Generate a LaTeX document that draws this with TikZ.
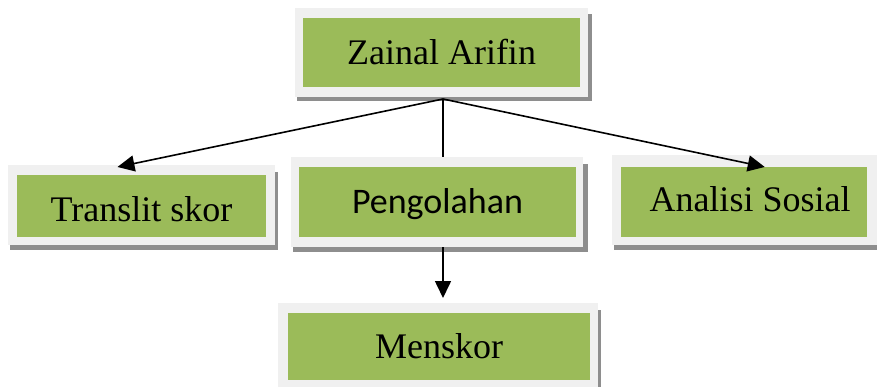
\documentclass[tikz,border=0pt]{standalone}
\usepackage{fontspec}
\setmainfont{Liberation Serif}
\newfontfamily\calfont{Carlito}
\usetikzlibrary{arrows.meta,calc}
\definecolor{boxgreen}{HTML}{9BBB59}
\definecolor{framegray}{HTML}{F0F0F0}
\definecolor{shadowgray}{HTML}{8E8E8E}
\begin{document}
\begin{tikzpicture}[x=1pt,y=-1pt,
  frame/.style={fill=framegray, draw=none, inner sep=0pt, outer sep=0pt},
  greenbox/.style={fill=boxgreen, draw=none, inner sep=0pt, outer sep=0pt,
    text height=24pt, text depth=0pt, font=\fontsize{36}{40}\selectfont},
  lbl/.style={font=\fontsize{36}{40}\selectfont, text height=24pt, text depth=0pt, inner sep=0pt},
  shade/.style={fill=shadowgray},
  conn/.style={line width=1.6pt, black},
  arr/.style={conn, -{Triangle[length=17pt,width=16pt]}}]
\clip (0,0) rectangle (877,387);
\fill[white] (0,0) rectangle (877,387);
% Zainal Arifin
\fill[shade] (297,14) rectangle (592,101);
\node[frame, minimum width=293pt, minimum height=89pt] (za) at (441.5,52.5) {};
\node[greenbox, minimum width=277pt, minimum height=69pt] (zat) at (441.5,52.5) {Zainal Arifin};
% Translit skor
\fill[shade] (10,172) rectangle (278,250);
\node[frame, minimum width=267pt, minimum height=80pt] (tr) at (141.5,205) {};
\node[greenbox, minimum width=249pt, minimum height=62pt] (trt) at (141.5,206) {};
\node[lbl] (trl) at (141.5,210) {Translit skor};
% Pengolahan
\fill[shade] (293,164) rectangle (588,252);
\node[frame, minimum width=292pt, minimum height=90pt] (pe) at (437,202) {};
\node[greenbox, minimum width=277pt, minimum height=70pt, font=\calfont\fontsize{36}{40}\selectfont, text height=23pt] (pet) at (437.5,202) {Pengolahan};
% Analisi Sosial
\fill[shade] (614,162) rectangle (884,250);
\node[frame, minimum width=268pt, minimum height=90pt] (an) at (746,200) {};
\node[greenbox, minimum width=246pt, minimum height=70pt] (ant) at (744,202) {};
\node[lbl] (anl) at (750,200) {Analisi Sosial};
% Menskor
\fill[shade] (280,310) rectangle (601,395);
\node[frame, minimum width=320pt, minimum height=90pt] (me) at (438,348) {};
\node[greenbox, minimum width=302pt, minimum height=67pt] (met) at (439,346.5) {Menskor};
% connectors
\coordinate (j) at ($(za.south)+(1.5,2)$);
\draw[arr] (j) -- ($(tr.north west)!0.41!(tr.north east)+(0,2)$);
\draw[arr] (j) -- ($(an.north west)!0.57!(an.north east)+(0,12)$);
\draw[conn] (j) -- (j |- pe.north);
\draw[arr] (j |- pe.south) -- ($(j |- me.north)+(0,-5)$);
\end{tikzpicture}
\end{document}
